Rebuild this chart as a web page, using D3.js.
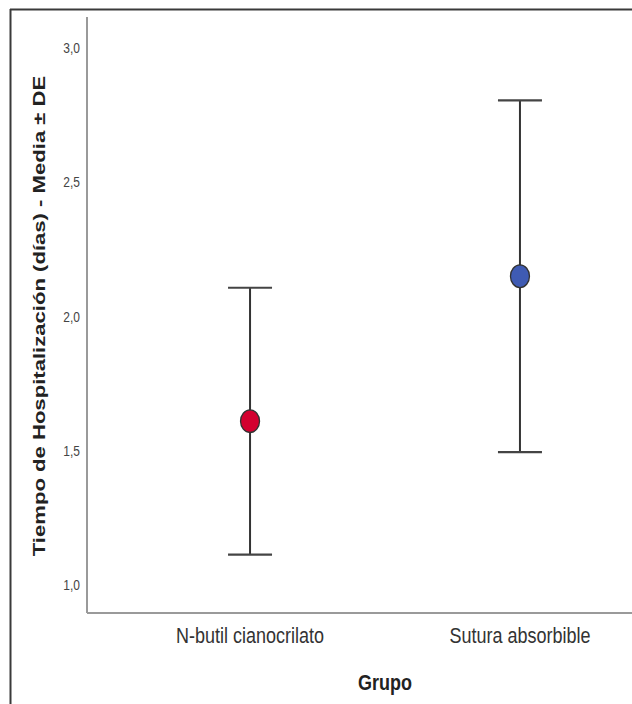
<!DOCTYPE html>
<html><head><meta charset="utf-8">
<script src="https://cdn.jsdelivr.net/npm/d3@7"></script>
<style>body{margin:0;background:#fff}svg{display:block}</style>
</head><body>
<script>
const categories = ["N-butil cianocrilato", "Sutura absorbible"];
const means = [1.61, 2.15];
const sds = [0.497, 0.655];
const colors = ["#d3002f", "#3f5bb3"];
const yTicks = [1.0, 1.5, 2.0, 2.5, 3.0];
const yTitle = "Tiempo de Hospitalización (días) - Media ± DE";
const xTitle = "Grupo";

const W = 632, H = 704;
const FONT = "Liberation Sans, Arial, sans-serif";
const VS = 1.2; // vertical stretch of the reference image
const svg = d3.select("body").append("svg").attr("width", W).attr("height", H);

// outer frame
svg.append("line").attr("x1", 10).attr("x2", W).attr("y1", 9.5).attr("y2", 9.5).attr("stroke", "#3a3a3a").attr("stroke-width", 2);
svg.append("line").attr("x1", 10.5).attr("x2", 10.5).attr("y1", 9).attr("y2", H).attr("stroke", "#3a3a3a").attr("stroke-width", 2);

const plotL = 87, plotT = 17, plotB = 613;
const y = d3.scaleLinear().domain([1.0, 3.0]).range([585, 48]);
const x = d3.scalePoint().domain(categories).range([plotL, 683]).padding(0.604);

// axes lines
svg.append("line").attr("x1", plotL).attr("x2", plotL).attr("y1", plotT).attr("y2", plotB).attr("stroke", "#9a9a9a").attr("stroke-width", 2);
svg.append("line").attr("x1", plotL).attr("x2", W).attr("y1", plotB).attr("y2", plotB).attr("stroke", "#9a9a9a").attr("stroke-width", 2);

// y tick labels
const fmt = d => d3.format(".1f")(d).replace(".", ",");
svg.append("g").selectAll("text").data(yTicks).join("text")
  .attr("transform", d => `translate(${plotL - 7},${y(d) + 5.2}) scale(1,${VS})`)
  .attr("text-anchor", "end").attr("font-family", FONT).attr("font-size", 12).attr("fill", "#444")
  .text(fmt);

// x tick labels
svg.append("g").selectAll("text").data(categories).join("text")
  .attr("transform", d => `translate(${x(d)},${643}) scale(1,${VS})`)
  .attr("text-anchor", "middle").attr("font-family", FONT).attr("font-size", 18).attr("fill", "#333")
  .text(d => d);

// titles
svg.append("text").attr("transform", `translate(${(x(categories[0]) + x(categories[1])) / 2},690) scale(1,${VS})`)
  .attr("text-anchor", "middle").attr("font-family", FONT)
  .attr("font-weight", "bold").attr("font-size", 18).attr("fill", "#222").text(xTitle);
svg.append("text").attr("transform", `translate(45,316) rotate(-90) scale(1.3,1)`)
  .attr("text-anchor", "middle").attr("font-family", FONT)
  .attr("font-weight", "bold").attr("font-size", 17).attr("fill", "#222").text(yTitle);

// error bars
const capHalf = 22;
categories.forEach((c, i) => {
  const cx = x(c), lo = means[i] - sds[i], hi = means[i] + sds[i];
  const g = svg.append("g");
  g.append("line").attr("x1", cx).attr("x2", cx).attr("y1", y(hi)).attr("y2", y(lo)).attr("stroke", "#333").attr("stroke-width", 2);
  [lo, hi].forEach(v => g.append("line").attr("x1", cx - capHalf).attr("x2", cx + capHalf)
    .attr("y1", y(v)).attr("y2", y(v)).attr("stroke", "#444").attr("stroke-width", 2.2));
  g.append("ellipse").attr("cx", cx).attr("cy", y(means[i])).attr("rx", 9.5).attr("ry", 11.3)
    .attr("fill", colors[i]).attr("stroke", "#333").attr("stroke-width", 1.3);
});
</script>
</body></html>
